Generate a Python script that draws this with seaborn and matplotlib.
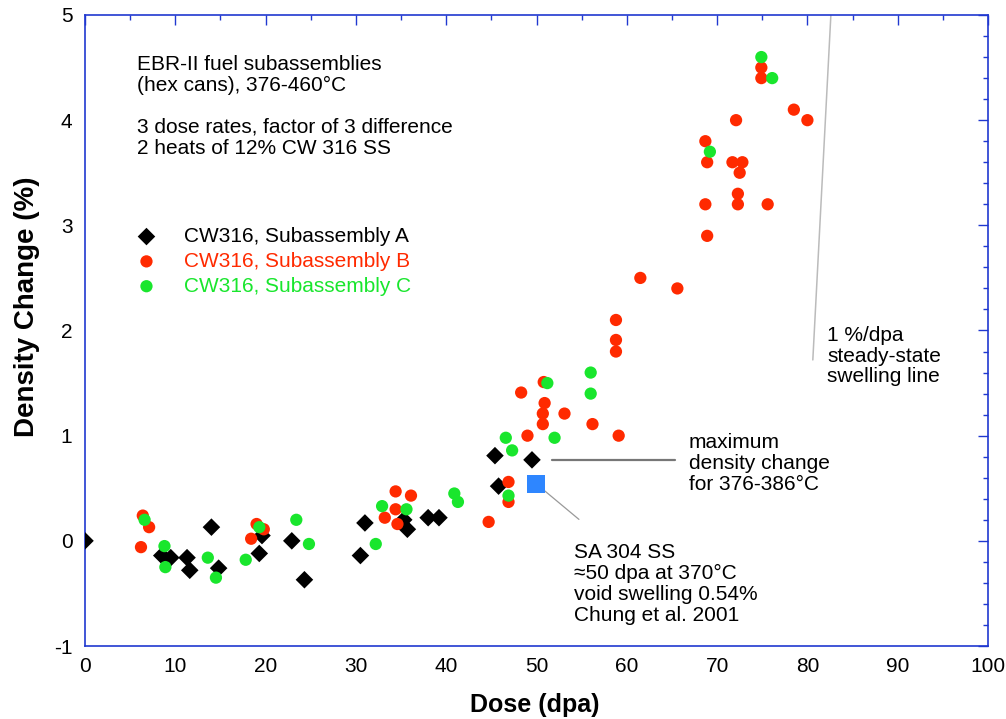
import matplotlib
matplotlib.use("Agg")
import matplotlib.pyplot as plt
from matplotlib.ticker import MultipleLocator
import seaborn as sns
import pandas as pd

# ---- data ----
a_dose = [0, 8.5, 9.5, 11.3, 11.6, 14.0, 14.8, 19.6, 19.3, 22.9, 24.3, 30.5, 31.0,
          35.3, 35.7, 38.0, 39.2, 45.4, 45.8, 49.5]
a_dens = [0.0, -0.14, -0.16, -0.16, -0.28, 0.13, -0.26, 0.05, -0.12, 0.0, -0.37, -0.14, 0.17,
          0.20, 0.11, 0.22, 0.22, 0.81, 0.52, 0.77]

b_dose = [6.4, 7.1, 6.2, 19.0, 19.8, 18.4, 33.2, 34.4, 36.1, 34.4, 34.6, 44.7, 46.9, 46.9,
          48.3, 49.0, 50.7, 50.7, 50.9, 50.8, 53.1, 56.2, 59.1, 58.8, 58.8, 58.8, 61.5, 65.6,
          68.7, 68.9, 68.7, 68.9, 71.7, 72.8, 72.5, 72.3, 72.3, 72.1, 74.9, 74.9, 75.6, 78.5, 80.0]
b_dens = [0.24, 0.13, -0.06, 0.16, 0.11, 0.02, 0.22, 0.47, 0.43, 0.30, 0.16, 0.18, 0.56, 0.37,
          1.41, 1.00, 1.11, 1.21, 1.31, 1.51, 1.21, 1.11, 1.00, 1.80, 1.91, 2.10, 2.50, 2.40,
          3.80, 3.60, 3.20, 2.90, 3.60, 3.60, 3.50, 3.30, 3.20, 4.00, 4.50, 4.40, 3.20, 4.10, 4.00]

c_dose = [6.6, 8.8, 8.9, 13.6, 14.5, 17.8, 19.3, 23.4, 24.8, 32.2, 32.9, 35.6, 40.9, 41.3,
          46.6, 47.3, 46.9, 51.2, 52.0, 56.0, 56.0, 69.2, 74.9, 76.1]
c_dens = [0.20, -0.05, -0.25, -0.16, -0.35, -0.18, 0.13, 0.20, -0.03, -0.03, 0.33, 0.30, 0.45, 0.37,
          0.98, 0.86, 0.43, 1.50, 0.98, 1.60, 1.40, 3.70, 4.60, 4.40]

sa304_dose = [49.9]
sa304_dens = [0.54]

labels = ["CW316, Subassembly A", "CW316, Subassembly B", "CW316, Subassembly C"]
colors = ["#000000", "#FF2A00", "#19E62D"]

# ---- figure ----
sns.set_style("white")
plt.rcParams["font.family"] = ["Liberation Sans", "DejaVu Sans"]
plt.rcParams["axes.unicode_minus"] = False
plt.rcParams["text.color"] = "black"
plt.rcParams["axes.labelcolor"] = "black"

fig = plt.figure(figsize=(10.06, 7.19), dpi=100)
ax = fig.add_axes([85 / 1006, 1 - 646 / 719, (988 - 85) / 1006, (646 - 15) / 719])

dfa = pd.DataFrame({"dose": a_dose, "dens": a_dens})
dfb = pd.DataFrame({"dose": b_dose, "dens": b_dens})
dfc = pd.DataFrame({"dose": c_dose, "dens": c_dens})
dfs = pd.DataFrame({"dose": sa304_dose, "dens": sa304_dens})

sns.scatterplot(data=dfa, x="dose", y="dens", ax=ax, marker="D", s=80, color=colors[0],
                edgecolor="none", label=labels[0], zorder=3)
sns.scatterplot(data=dfb, x="dose", y="dens", ax=ax, marker="o", s=78, color=colors[1],
                edgecolor="none", label=labels[1], zorder=3)
sns.scatterplot(data=dfc, x="dose", y="dens", ax=ax, marker="o", s=78, color=colors[2],
                edgecolor="none", label=labels[2], zorder=3)
sns.scatterplot(data=dfs, x="dose", y="dens", ax=ax, marker="s", s=170, color="#2E86FF",
                edgecolor="none", zorder=3, legend=False)

ax.set_xlim(0, 100)
ax.set_ylim(-1, 5)

# annotation lines
ax.plot([82.6, 80.6], [5.0, 1.72], color="#BBBBBB", lw=1.1, zorder=1)
ax.plot([51.7, 65.3], [0.765, 0.765], color="#777777", lw=1.6, zorder=1)
ax.plot([50.8, 54.7], [0.483, 0.204], color="#999999", lw=0.9, zorder=1)

fs = 15
ls = 1.12
ax.text(5.75, 4.13, "EBR-II fuel subassemblies\n(hex cans), 376-460°C\n\n"
        "3 dose rates, factor of 3 difference\n2 heats of 12% CW 316 SS",
        fontsize=fs, linespacing=ls, ha="left", va="center", color="black")
ax.text(66.85, 0.735, "maximum\ndensity change\nfor 376-386°C",
        fontsize=fs, linespacing=ls, ha="left", va="center", color="black")
ax.text(54.2, -0.41, "SA 304 SS\n≈50 dpa at 370°C\nvoid swelling 0.54%\nChung et al. 2001",
        fontsize=fs, linespacing=ls, ha="left", va="center", color="black")
ax.text(82.2, 1.757, "1 %/dpa\nsteady-state\nswelling line",
        fontsize=fs, linespacing=ls, ha="left", va="center", color="black")

# legend
leg = ax.legend(loc="upper left", bbox_to_anchor=(0.045, 0.664), frameon=False,
                fontsize=fs, labelcolor=colors, handlelength=2.0, handletextpad=0.8,
                labelspacing=0.28, borderpad=0, borderaxespad=0, scatterpoints=1)

# axes styling
spine_col = "#2038D0"
for sp in ax.spines.values():
    sp.set_color(spine_col)
    sp.set_linewidth(1.2)
ax.xaxis.set_major_locator(MultipleLocator(10))
ax.xaxis.set_minor_locator(MultipleLocator(5))
ax.yaxis.set_major_locator(MultipleLocator(1))
ax.yaxis.set_minor_locator(MultipleLocator(0.2))
ax.tick_params(which="both", direction="in", top=True, right=True, color=spine_col,
               labelsize=15, labelcolor="black")
ax.tick_params(which="major", length=7, width=1.0)
ax.tick_params(which="minor", length=3.5, width=1.0)
ax.tick_params(axis="x", which="major", pad=8)
ax.tick_params(axis="y", which="major", pad=9)

ax.set_xlabel("Dose (dpa)", fontsize=18, fontweight="bold", color="black")
ax.set_ylabel("Density Change (%)", fontsize=20, fontweight="bold", color="black")
ax.xaxis.set_label_coords(0.498, -0.074)
ax.yaxis.set_label_coords(-0.05, 0.537)

fig.savefig("out.png", dpi=100)
